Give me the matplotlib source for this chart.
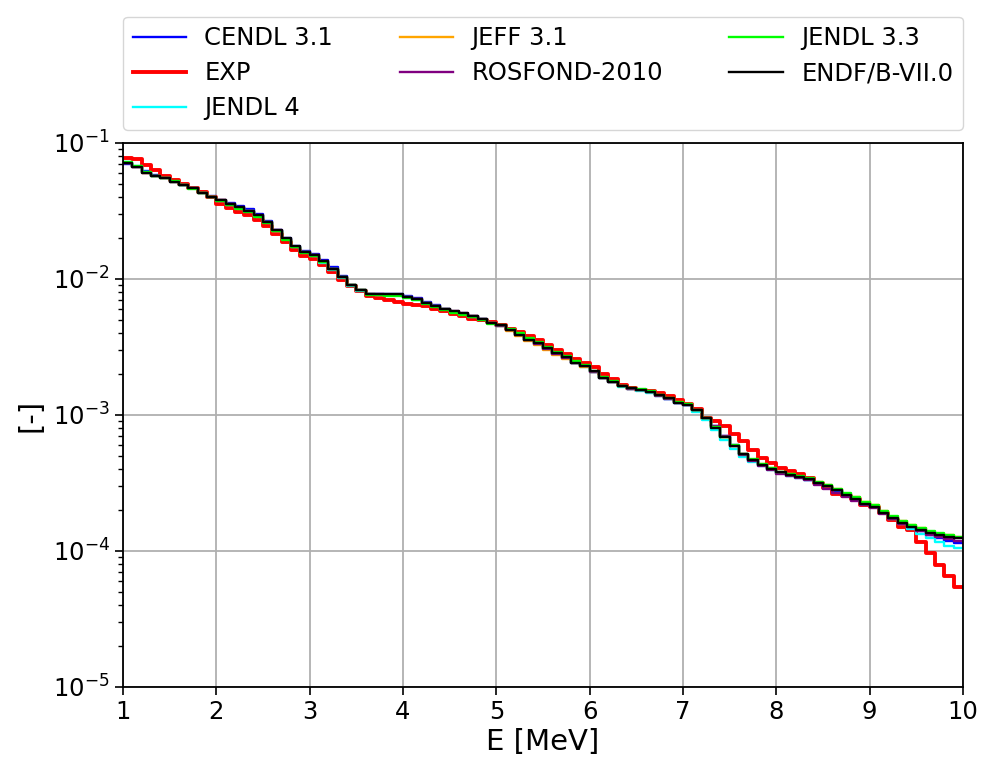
import numpy as np
import matplotlib.pyplot as plt

# Neutron spectrum per 0.1 MeV group, 1-10 MeV
E_EDGES = np.linspace(1.0, 10.0, 91)

cendl_31 = [
    0.0700, 0.0668, 0.0618, 0.0585, 0.0558, 0.0522, 0.0493, 0.0466, 0.0434, 0.0405,
    0.0383, 0.0362, 0.0345, 0.0326, 0.0301, 0.0266, 0.0230, 0.0200, 0.0175, 0.0160,
    0.0153, 0.0139, 0.0122, 0.0106, 0.00910, 0.00832, 0.00778, 0.00775, 0.00775, 0.00778,
    0.00752, 0.00722, 0.00682, 0.00640, 0.00606, 0.00576, 0.00556, 0.00532, 0.00508, 0.00476,
    0.00456, 0.00420, 0.00386, 0.00354, 0.00334, 0.00307, 0.00283, 0.00264, 0.00242, 0.00228,
    0.00208, 0.00188, 0.00175, 0.00162, 0.00156, 0.00152, 0.00147, 0.00140, 0.00132, 0.00123,
    0.00119, 0.00108, 0.000955, 0.000830, 0.000700, 0.000600, 0.000515, 0.000465, 0.000428, 0.000400,
    0.000376, 0.000361, 0.000347, 0.000335, 0.000316, 0.000297, 0.000278, 0.000256, 0.000241, 0.000221,
    0.000211, 0.000190, 0.000173, 0.000158, 0.000149, 0.000140, 0.000130, 0.000124, 0.000118, 0.000114,
]

exp = [
    0.0771, 0.0758, 0.0689, 0.0633, 0.0572, 0.0535, 0.0502, 0.0470, 0.0436, 0.0400,
    0.0356, 0.0332, 0.0313, 0.0294, 0.0272, 0.0246, 0.0213, 0.0186, 0.0162, 0.0148,
    0.0140, 0.0126, 0.0112, 0.0099, 0.0089, 0.0082, 0.0075, 0.0072, 0.0070, 0.0068,
    0.0066, 0.0064, 0.0063, 0.0060, 0.0058, 0.0055, 0.0053, 0.0051, 0.0050, 0.0048,
    0.00458, 0.00428, 0.00410, 0.00378, 0.00356, 0.00328, 0.00300, 0.00281, 0.00258, 0.00243,
    0.00225, 0.00199, 0.00183, 0.00165, 0.00158, 0.00152, 0.00150, 0.00145, 0.00138, 0.00129,
    0.00121, 0.00110, 0.000955, 0.000900, 0.000830, 0.000730, 0.000640, 0.000550, 0.000480, 0.000440,
    0.000410, 0.000385, 0.000366, 0.000345, 0.000318, 0.000289, 0.000263, 0.000255, 0.000240, 0.000218,
    0.000210, 0.000189, 0.000169, 0.000151, 0.000143, 0.000117, 0.000096, 0.000079, 0.000065, 0.000054,
]

jendl_4 = [
    0.0722, 0.0672, 0.0610, 0.0575, 0.0553, 0.0520, 0.0495, 0.0468, 0.0430, 0.0400,
    0.0377, 0.0352, 0.0334, 0.0314, 0.0291, 0.0261, 0.0226, 0.0196, 0.0171, 0.0157,
    0.0148, 0.0132, 0.0116, 0.0102, 0.00892, 0.00822, 0.00770, 0.00762, 0.00760, 0.00758,
    0.00732, 0.00702, 0.00664, 0.00628, 0.00598, 0.00570, 0.00552, 0.00528, 0.00505, 0.00473,
    0.00452, 0.00420, 0.00387, 0.00354, 0.00334, 0.00307, 0.00282, 0.00263, 0.00241, 0.00227,
    0.00207, 0.00186, 0.00174, 0.00161, 0.00155, 0.00151, 0.00146, 0.00139, 0.00132, 0.00122,
    0.00118, 0.00106, 0.000920, 0.000770, 0.000655, 0.000565, 0.000492, 0.000448, 0.000418, 0.000392,
    0.000372, 0.000358, 0.000345, 0.000334, 0.000316, 0.000298, 0.000280, 0.000258, 0.000243, 0.000223,
    0.000210, 0.000189, 0.000172, 0.000157, 0.000146, 0.000134, 0.000124, 0.000116, 0.000109, 0.000105,
]

jeff_31 = [
    0.0712, 0.0668, 0.0606, 0.0574, 0.0551, 0.0520, 0.0492, 0.0463, 0.0430, 0.0402,
    0.0378, 0.0354, 0.0335, 0.0315, 0.0292, 0.0262, 0.0227, 0.0198, 0.0173, 0.0158,
    0.0149, 0.0134, 0.0118, 0.0103, 0.00900, 0.00828, 0.00772, 0.00766, 0.00765, 0.00765,
    0.00738, 0.00708, 0.00668, 0.00630, 0.00602, 0.00575, 0.00556, 0.00531, 0.00507, 0.00474,
    0.00450, 0.00416, 0.00380, 0.00348, 0.00328, 0.00302, 0.00278, 0.00260, 0.00240, 0.00227,
    0.00208, 0.00187, 0.00175, 0.00162, 0.00156, 0.00152, 0.00148, 0.00140, 0.00133, 0.00124,
    0.00120, 0.00109, 0.000950, 0.000810, 0.000690, 0.000596, 0.000518, 0.000470, 0.000434, 0.000405,
    0.000381, 0.000366, 0.000352, 0.000341, 0.000322, 0.000304, 0.000286, 0.000263, 0.000248, 0.000228,
    0.000217, 0.000196, 0.000179, 0.000165, 0.000155, 0.000147, 0.000139, 0.000134, 0.000130, 0.000127,
]

rosfond_2010 = [
    0.0714, 0.0669, 0.0606, 0.0572, 0.0550, 0.0519, 0.0491, 0.0464, 0.0431, 0.0403,
    0.0380, 0.0356, 0.0337, 0.0317, 0.0294, 0.0263, 0.0228, 0.0198, 0.0173, 0.0158,
    0.0150, 0.0135, 0.0119, 0.0104, 0.00902, 0.00830, 0.00775, 0.00770, 0.00768, 0.00768,
    0.00738, 0.00708, 0.00668, 0.00632, 0.00604, 0.00577, 0.00558, 0.00533, 0.00509, 0.00476,
    0.00454, 0.00421, 0.00388, 0.00355, 0.00335, 0.00308, 0.00283, 0.00264, 0.00242, 0.00228,
    0.00208, 0.00187, 0.00175, 0.00162, 0.00156, 0.00152, 0.00147, 0.00139, 0.00132, 0.00122,
    0.00118, 0.00108, 0.000950, 0.000825, 0.000700, 0.000590, 0.000505, 0.000455, 0.000420, 0.000392,
    0.000370, 0.000356, 0.000342, 0.000330, 0.000306, 0.000287, 0.000268, 0.000248, 0.000234, 0.000216,
    0.000207, 0.000188, 0.000172, 0.000158, 0.000149, 0.000140, 0.000132, 0.000126, 0.000122, 0.000119,
]

jendl_33 = [
    0.0728, 0.0675, 0.0608, 0.0574, 0.0552, 0.0521, 0.0490, 0.0462, 0.0428, 0.0398,
    0.0372, 0.0348, 0.0329, 0.0309, 0.0287, 0.0258, 0.0224, 0.0195, 0.0171, 0.0156,
    0.0148, 0.0133, 0.0118, 0.0103, 0.00898, 0.00826, 0.00765, 0.00758, 0.00755, 0.00752,
    0.00725, 0.00695, 0.00655, 0.00620, 0.00592, 0.00566, 0.00548, 0.00524, 0.00500, 0.00470,
    0.00455, 0.00428, 0.00398, 0.00366, 0.00345, 0.00318, 0.00292, 0.00272, 0.00249, 0.00233,
    0.00211, 0.00189, 0.00177, 0.00164, 0.00158, 0.00154, 0.00149, 0.00141, 0.00134, 0.00124,
    0.00120, 0.00109, 0.000950, 0.000812, 0.000690, 0.000598, 0.000520, 0.000472, 0.000436, 0.000406,
    0.000382, 0.000367, 0.000353, 0.000342, 0.000324, 0.000306, 0.000287, 0.000265, 0.000249, 0.000229,
    0.000218, 0.000197, 0.000180, 0.000166, 0.000156, 0.000148, 0.000140, 0.000135, 0.000131, 0.000127,
]

endf_b7 = [
    0.0716, 0.0670, 0.0605, 0.0572, 0.0550, 0.0519, 0.0491, 0.0464, 0.0431, 0.0403,
    0.0381, 0.0357, 0.0338, 0.0318, 0.0295, 0.0264, 0.0229, 0.0199, 0.0174, 0.0159,
    0.0150, 0.0135, 0.0119, 0.0104, 0.00904, 0.00830, 0.00775, 0.00770, 0.00770, 0.00770,
    0.00740, 0.00710, 0.00670, 0.00633, 0.00605, 0.00578, 0.00559, 0.00534, 0.00510, 0.00477,
    0.00455, 0.00422, 0.00389, 0.00356, 0.00336, 0.00309, 0.00284, 0.00265, 0.00243, 0.00229,
    0.00209, 0.00188, 0.00176, 0.00163, 0.00157, 0.00153, 0.00148, 0.00140, 0.00133, 0.00123,
    0.00119, 0.00108, 0.000946, 0.000805, 0.000685, 0.000592, 0.000515, 0.000467, 0.000431, 0.000402,
    0.000378, 0.000362, 0.000348, 0.000337, 0.000318, 0.000300, 0.000281, 0.000258, 0.000243, 0.000222,
    0.000212, 0.000191, 0.000174, 0.000160, 0.000151, 0.000143, 0.000135, 0.000131, 0.000127, 0.000124,
]

# (label, values, colour, linewidth) in drawing order
series = [
    ('CENDL 3.1', cendl_31, 'blue', 1.7),
    ('EXP', exp, 'red', 2.8),
    ('JENDL 4', jendl_4, 'cyan', 1.7),
    ('JEFF 3.1', jeff_31, 'orange', 1.7),
    ('ROSFOND-2010', rosfond_2010, 'purple', 1.7),
    ('JENDL 3.3', jendl_33, 'lime', 1.7),
    ('ENDF/B-VII.0', endf_b7, 'black', 1.7),
]

fig = plt.figure(figsize=(9.81, 7.65), dpi=100)
ax = fig.add_axes([0.1254, 0.1020, 0.8563, 0.7111])

for label, vals, color, lw in series:
    vals = np.asarray(vals)
    ax.step(E_EDGES, np.append(vals, vals[-1]), where='post',
            color=color, lw=lw, label=label)

ax.set_yscale('log')
ax.set_xlim(1, 10)
ax.set_ylim(1e-5, 1e-1)
ax.set_xticks(range(1, 11))
ax.grid(True, which='major', color='#b0b0b0', lw=1.3)
ax.set_axisbelow(True)

ax.tick_params(which='major', labelsize=17.5, length=6, width=1.2)
ax.tick_params(which='minor', length=3.5, width=1.0)
for sp in ax.spines.values():
    sp.set_linewidth(1.3)

ax.set_xlabel('E [MeV]', fontsize=21, labelpad=3)
ax.set_ylabel('[-]', fontsize=21, labelpad=6)

ax.legend(bbox_to_anchor=(0.0, 1.024, 1.0, 0.2), loc='lower left', mode='expand',
          ncol=3, fontsize=17.5, handlelength=2.2, handletextpad=0.75,
          labelspacing=0.45, borderaxespad=0.0, frameon=True)

fig.savefig('out.png', dpi=100)
